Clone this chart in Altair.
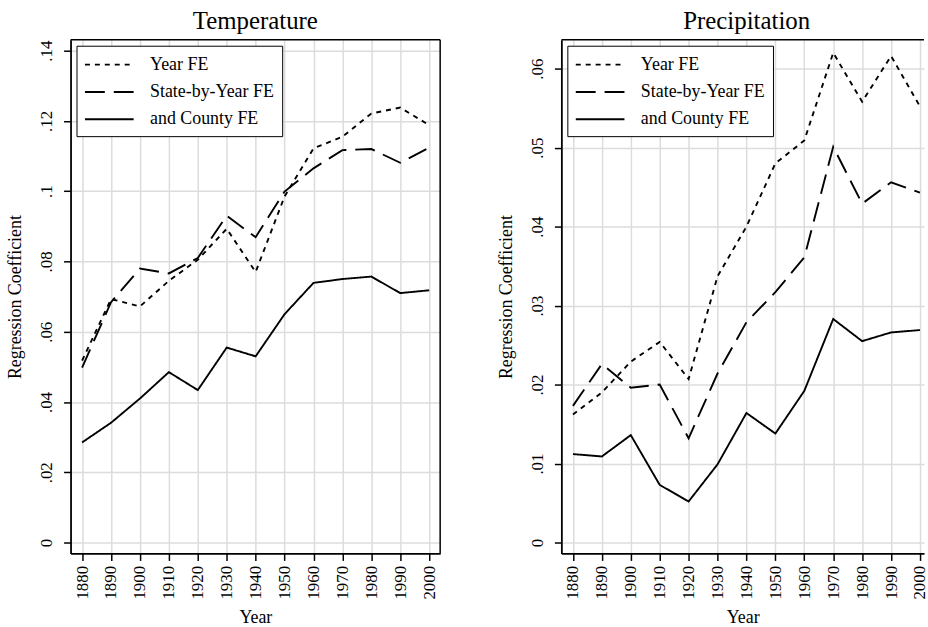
import altair as alt
import pandas as pd

years = [1880, 1890, 1900, 1910, 1920, 1930, 1940, 1950, 1960, 1970, 1980, 1990, 2000]
series = ["Year FE", "State-by-Year FE", "and County FE"]

temp_year = [0.0518, 0.0693, 0.0672, 0.0745, 0.0805, 0.0893, 0.0770, 0.0985, 0.1122, 0.1155, 0.1221, 0.1238, 0.1188]
temp_state = [0.0498, 0.0684, 0.0780, 0.0766, 0.0810, 0.0930, 0.0869, 0.0999, 0.1065, 0.1117, 0.1120, 0.1081, 0.1124]
temp_county = [0.0285, 0.0341, 0.0410, 0.0485, 0.0434, 0.0555, 0.0530, 0.0650, 0.0739, 0.0750, 0.0757, 0.0710, 0.0718]

prec_year = [0.0162, 0.0190, 0.0229, 0.0254, 0.0207, 0.0337, 0.0400, 0.0480, 0.0509, 0.0620, 0.0558, 0.0616, 0.0552]
prec_state = [0.0173, 0.0226, 0.0196, 0.0200, 0.0132, 0.0214, 0.0279, 0.0317, 0.0361, 0.0501, 0.0429, 0.0456, 0.0443]
prec_county = [0.0112, 0.0109, 0.0136, 0.0073, 0.0052, 0.0099, 0.0164, 0.0138, 0.0192, 0.0283, 0.0255, 0.0266, 0.0269]

temp_ticks = [0, 0.02, 0.04, 0.06, 0.08, 0.10, 0.12, 0.14]
prec_ticks = [0, 0.01, 0.02, 0.03, 0.04, 0.05, 0.06]

FONT = "Liberation Serif"
H = 517


def long_df(a, b, c):
    rows = []
    for name, vals in zip(series, [a, b, c]):
        for y, v in zip(years, vals):
            rows.append({"year": y, "value": v, "series": name})
    return pd.DataFrame(rows)


def panel(df, title, ydom, yticks, xdom, width, right_frame, title_dx):
    line = alt.Chart(df).mark_line(strokeWidth=1.9, color="black").encode(
        x=alt.X(
            "year:Q",
            scale=alt.Scale(domain=xdom, nice=False, zero=False),
            axis=alt.Axis(
                values=years, title="Year", format="d", labelAngle=270,
                labelAlign="right", labelBaseline="middle", labelPadding=5,
                titlePadding=9,
            ),
        ),
        y=alt.Y(
            "value:Q",
            scale=alt.Scale(domain=ydom, nice=False, zero=False),
            axis=alt.Axis(
                values=yticks, title="Regression Coefficient",
                labelExpr="datum.value == 0 ? '0' : substring(format(datum.value, '.2~f'), 1)",
                labelAngle=270, labelAlign="center", labelBaseline="bottom",
                labelPadding=8, titlePadding=13,
            ),
        ),
        strokeDash=alt.StrokeDash(
            "series:N",
            scale=alt.Scale(domain=series, range=[[5, 5], [20, 9], [1, 0]]),
            legend=alt.Legend(
                title=None, orient="top-left", offset=6,
                fillColor="white", strokeColor="black", padding=8,
                symbolType="M-2.5,0H2.5", symbolSize=384, symbolStrokeWidth=1.9,
                symbolStrokeColor="black", symbolOffset=14,
                labelFont=FONT, labelFontSize=18,
                labelColor="black", labelOffset=30, rowPadding=7.5,
            ),
        ),
    )
    frame_df = pd.DataFrame({"k": [0]})
    top = alt.Chart(frame_df).mark_rule(color="black", strokeWidth=1.5).encode(
        x=alt.value(0), x2=alt.value(width), y=alt.value(0)
    )
    layers = [top, line]
    if right_frame:
        right = alt.Chart(frame_df).mark_rule(color="black", strokeWidth=1.5).encode(
            x=alt.value(width), y=alt.value(0), y2=alt.value(H)
        )
        layers.insert(1, right)
    return alt.layer(*layers).properties(
        width=width, height=H,
        title=alt.TitleParams(title, fontSize=25, font=FONT, fontWeight="normal",
                              color="black", offset=5, dx=title_dx),
    )


left = panel(long_df(temp_year, temp_state, temp_county), "Temperature",
             [-0.0031, 0.1431], temp_ticks, [1876, 2003.8], 372, True, 0)
right = panel(long_df(prec_year, prec_state, prec_county), "Precipitation",
              [-0.00138, 0.06365], prec_ticks, [1876, 2001.4], 365, False, 4)

chart = alt.hconcat(left, right, spacing=57).resolve_scale(strokeDash="independent").properties(
    padding={"left": 6, "top": 7, "right": 0, "bottom": 0}, background="white"
).configure_view(stroke=None).configure_axis(
    labelFont=FONT, labelFontSize=17, labelColor="black",
    titleFont=FONT, titleFontSize=18, titleFontWeight="normal", titleColor="black",
    domainColor="black", domainWidth=1.8, tickColor="black", tickWidth=1.5, tickSize=7,
    gridColor="#dcdcdc", gridWidth=1.5, gridOpacity=1,
)

chart.save("out.html", embed_options={"renderer": "svg", "actions": False})
